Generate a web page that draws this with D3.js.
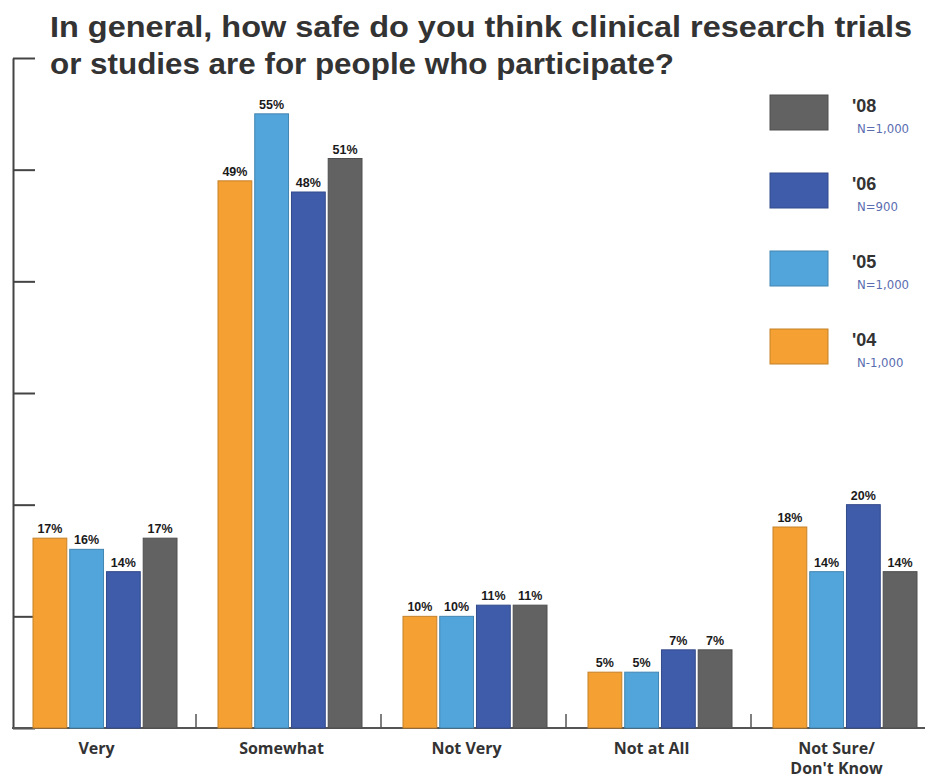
<!DOCTYPE html>
<html><head><meta charset="utf-8">
<script src="https://cdn.jsdelivr.net/npm/d3@7"></script>
<style>body{margin:0;background:#fff}svg{display:block}</style>
</head><body>
<svg id="c" width="933" height="778"></svg>
<script>
const categories = ["Very", "Somewhat", "Not Very", "Not at All", "Not Sure/\nDon't Know"];
const seriesNames = ["'04", "'05", "'06", "'08"];
const sampleSizes = ["N-1,000", "N=1,000", "N=900", "N=1,000"];
const v04 = [17, 49, 10, 5, 18];
const v05 = [16, 55, 10, 5, 14];
const v06 = [14, 48, 11, 7, 20];
const v08 = [17, 51, 11, 7, 14];
const yTicks = [0, 10, 20, 30, 40, 50, 60];
const colors = ["#F4A033", "#52A5DB", "#3F5CAB", "#626262"];
const title = ["In general, how safe do you think clinical research trials", "or studies are for people who participate?"];

const series = [v04, v05, v06, v08];
const svg = d3.select("#c");
const x = d3.scaleBand().domain(categories).range([12, 937]).paddingInner(0).paddingOuter(0);
const xs = d3.scaleBand().domain(seriesNames).range([21, 165]).paddingInner(0.08);
const y = d3.scaleLinear().domain([0, 60]).range([728, 58]);

// title
svg.append("g").selectAll("text").data(title).join("text")
  .attr("x", 50).attr("y", (d, i) => 37 + i * 37)
  .attr("font-family", "Liberation Sans Narrow, Arial Narrow, Liberation Sans, sans-serif")
  .attr("font-weight", "bold").attr("font-size", 30).attr("fill", "#333")
  .attr("textLength", (d, i) => i === 0 ? 862 : 624).attr("lengthAdjust", "spacingAndGlyphs")
  .text(d => d);

// y axis
const yAxis = d3.axisRight(y).tickValues(yTicks).tickSize(22).tickSizeOuter(0).tickFormat("");
const ga = svg.append("g").attr("transform", "translate(13,0)").call(yAxis);
ga.selectAll("path,line").attr("stroke", "#444").attr("stroke-width", 2);

// baseline
svg.append("line").attr("x1", 12).attr("x2", 925).attr("y1", y(0)).attr("y2", y(0))
  .attr("stroke", "#555").attr("stroke-width", 2);
// category separators
svg.append("g").selectAll("line").data(categories.slice(1)).join("line")
  .attr("x1", d => x(d) - 1).attr("x2", d => x(d) - 1)
  .attr("y1", y(0) - 14).attr("y2", y(0)).attr("stroke", "#555").attr("stroke-width", 1.5);

// bars
const groups = svg.append("g").selectAll("g").data(categories).join("g")
  .attr("transform", d => `translate(${x(d)},0)`);
groups.each(function (cat, ci) {
  const g = d3.select(this);
  seriesNames.forEach((s, si) => {
    const v = series[si][ci];
    g.append("rect").attr("x", xs(s)).attr("y", y(v)).attr("width", xs.bandwidth())
      .attr("height", y(0) - y(v)).attr("fill", colors[si])
      .attr("stroke", d3.color(colors[si]).darker(0.6)).attr("stroke-width", 1);
    g.append("text").attr("x", xs(s) + xs.bandwidth() / 2).attr("y", y(v) - 5)
      .attr("text-anchor", "middle").attr("font-family", "Liberation Sans, Arial, sans-serif")
      .attr("font-weight", "bold").attr("font-size", 12.5).attr("fill", "#1a1a1a")
      .text(v + "%");
  });
  const lines = cat.split("\n");
  g.selectAll("text.cat").data(lines).join("text").attr("class", "cat")
    .attr("x", x.bandwidth() / 2 - 8).attr("y", (d, i) => 754 + i * 20)
    .attr("text-anchor", "middle").attr("font-family", "Open Sans, Arial, sans-serif")
    .attr("font-weight", "bold").attr("font-size", 16).attr("fill", "#333").text(d => d);
});

// legend (top to bottom: '08, '06, '05, '04)
const legendOrder = [3, 2, 1, 0];
const lg = svg.append("g").selectAll("g").data(legendOrder).join("g")
  .attr("transform", (d, i) => `translate(770,${95 + i * 78})`);
lg.append("rect").attr("width", 58).attr("height", 35).attr("fill", d => colors[d])
  .attr("stroke", d => d3.color(colors[d]).darker(0.6));
lg.append("text").attr("x", 82).attr("y", 17).attr("font-family", "Liberation Sans, Arial, sans-serif")
  .attr("font-weight", "bold").attr("font-size", 18).attr("fill", "#333").text(d => seriesNames[d]);
lg.append("text").attr("x", 87).attr("y", 38).attr("font-family", "DejaVu Sans Condensed, DejaVu Sans, sans-serif")
  .attr("font-size", 13).attr("fill", "#5a6db0").text(d => sampleSizes[d]);
</script>
</body></html>
